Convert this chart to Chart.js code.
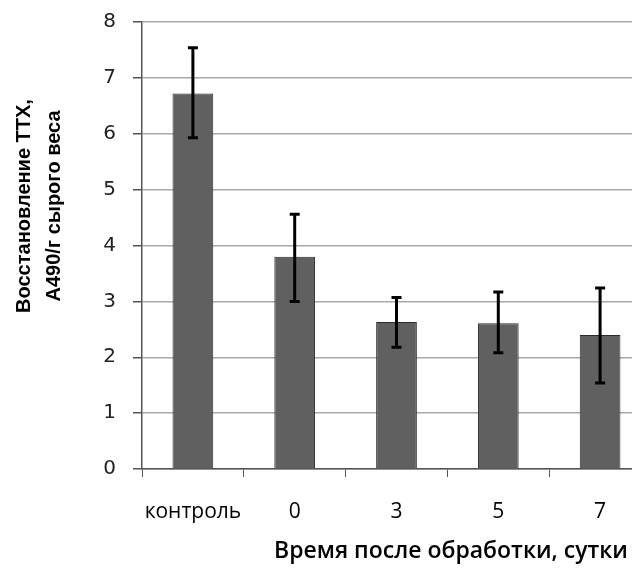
<!DOCTYPE html>
<html>
<head>
<meta charset="utf-8">
<script src="https://cdn.jsdelivr.net/npm/chart.js@4"></script>
<style>
  html, body { margin: 0; padding: 0; background: #fff; overflow: hidden; }
  #wrap { width: 660px; height: 572px; }
</style>
</head>
<body>
<div id="wrap"><canvas id="chart" width="660" height="572"></canvas></div>
<script>
const categories = ['контроль', '0', '3', '5', '7'];
const values = [6.72, 3.80, 2.63, 2.61, 2.40];
const errHigh = [7.54, 4.56, 3.07, 3.17, 3.24];
const errLow = [5.93, 3.00, 2.18, 2.08, 1.54];
const yTitle = ['Восстановление ТТХ,', 'А490/г сырого веса'];
const xTitle = 'Время после обработки, сутки';

// error bars + axis titles
const extras = {
    id: 'extras',
    afterDatasetsDraw(chart) {
        const ctx = chart.ctx;
        const x = chart.scales.x, y = chart.scales.y;
        ctx.save();
        ctx.strokeStyle = '#000';
        ctx.lineWidth = 3;
        values.forEach((v, i) => {
            const px = x.getPixelForValue(i);
            const top = y.getPixelForValue(errHigh[i]);
            const bot = y.getPixelForValue(errLow[i]);
            ctx.beginPath();
            ctx.moveTo(px, top); ctx.lineTo(px, bot);
            ctx.moveTo(px - 5, top); ctx.lineTo(px + 5, top);
            ctx.moveTo(px - 5, bot); ctx.lineTo(px + 5, bot);
            ctx.stroke();
        });
        ctx.restore();
    },
    afterDraw(chart) {
        const ctx = chart.ctx;
        ctx.save();
        ctx.fillStyle = '#000';
        ctx.textAlign = 'center';
        ctx.textBaseline = 'middle';
        ctx.font = 'bold 20px "Liberation Sans", Arial, sans-serif';
        ctx.translate(0, 206);
        ctx.rotate(-Math.PI / 2);
        ctx.fillText(yTitle[0], 0, 24);
        ctx.fillText(yTitle[1], 0, 54);
        ctx.restore();
        ctx.save();
        ctx.fillStyle = '#000';
        ctx.textAlign = 'center';
        ctx.textBaseline = 'middle';
        ctx.font = '600 23px "Open Sans", sans-serif';
        ctx.fillText(xTitle, 451, 551);
        ctx.restore();
    }
};

new Chart(document.getElementById('chart'), {
    type: 'bar',
    data: {
        labels: categories,
        datasets: [{
            data: values,
            backgroundColor: '#606060',
            borderColor: '#2b2b2b',
            borderWidth: 1,
            barPercentage: 0.4,
            categoryPercentage: 1
        }]
    },
    options: {
        responsive: false,
        animation: false,
        layout: { padding: { left: 0, right: 9, top: 22, bottom: 0 } },
        plugins: { legend: { display: false }, tooltip: { enabled: false } },
        scales: {
            x: {
                afterFit: s => { s.height = 103; s.paddingLeft = 0; s.paddingRight = 0; },
                grid: { drawOnChartArea: false, drawTicks: true, tickLength: 8, color: '#555', offset: true },
                border: { color: '#555', width: 1.5 },
                ticks: { color: '#000', padding: 22, maxRotation: 0, autoSkip: false, font: { family: '"Open Sans", sans-serif', size: 21, weight: '500' } }
            },
            y: {
                min: 0, max: 8,
                afterFit: s => { s.width = 142; s.paddingTop = 0; s.paddingBottom = 0; },
                grid: { color: '#a8a8a8', lineWidth: 1.5, tickColor: '#555', tickLength: 9 },
                border: { color: '#555', width: 1.5 },
                ticks: { stepSize: 1, color: '#222', padding: 17, font: { family: '"DejaVu Sans", sans-serif', size: 20 } }
            }
        }
    },
    plugins: [extras]
});
</script>
</body>
</html>
